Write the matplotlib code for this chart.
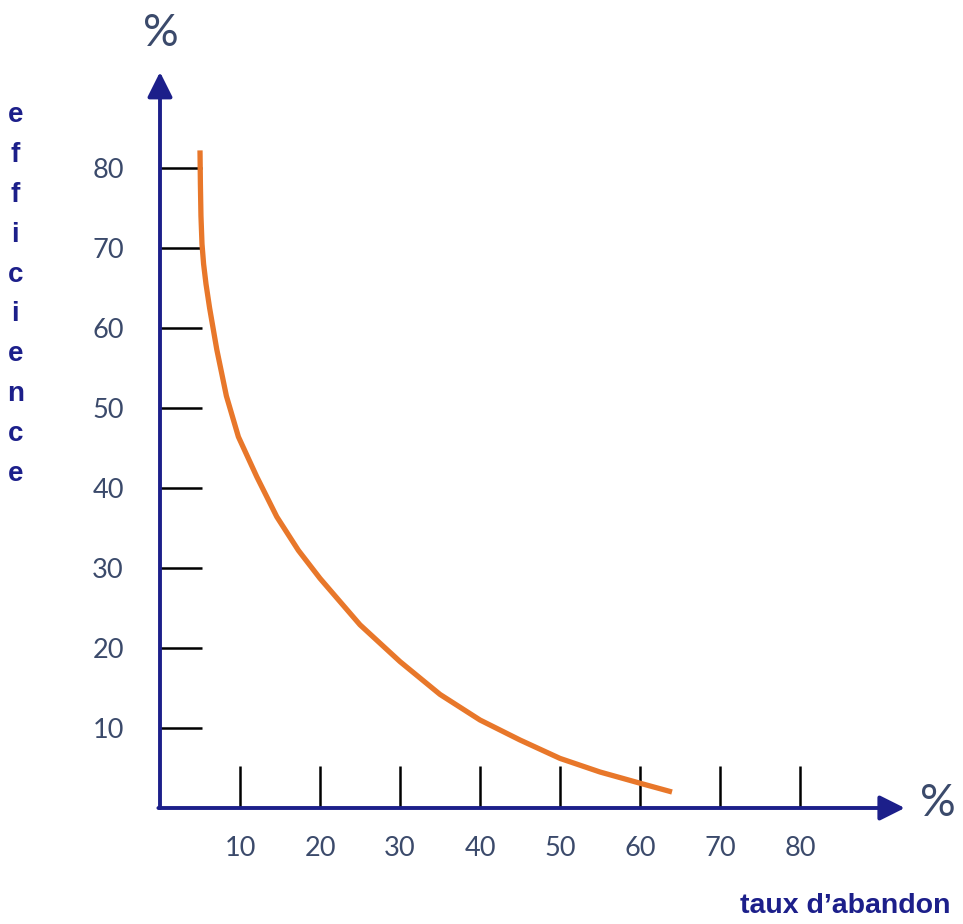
import matplotlib.pyplot as plt
import numpy as np

# data
taux_abandon = [5, 5.05, 5.12, 5.25, 5.45, 5.75, 6.2, 7.1, 8.3, 9.8, 12.1, 14.6, 17.3,
                20, 25, 30, 35, 40, 45, 50, 55, 60, 64]
efficience = [82.2, 78, 74, 70.5, 68, 65.5, 62.5, 57.3, 51.5, 46.4, 41.4, 36.4, 32.2,
              28.7, 22.9, 18.3, 14.2, 11, 8.5, 6.2, 4.5, 3.1, 2.0]
xticks = [10, 20, 30, 40, 50, 60, 70, 80]
yticks = [10, 20, 30, 40, 50, 60, 70, 80]

navy = '#1c1f8a'
label_col = '#3b4a6b'
orange = '#e8772a'

fig = plt.figure(figsize=(9.63, 9.24), dpi=100)
ax = fig.add_axes([0, 0, 1, 1])
ax.set_xlim(-20, 100.375)
ax.set_ylim(-14.5, 101)

for s in ['top', 'right']:
    ax.spines[s].set_visible(False)
for s in ['left', 'bottom']:
    ax.spines[s].set_position(('data', 0))
    ax.spines[s].set_visible(False)

# axis lines with arrows
ax.annotate('', xy=(0, 92), xytext=(0, 0),
            arrowprops=dict(arrowstyle='-|>', lw=2.8, color=navy,
                            mutation_scale=38, shrinkA=0, shrinkB=0))
ax.annotate('', xy=(93.1, 0), xytext=(-0.2, 0),
            arrowprops=dict(arrowstyle='-|>', lw=2.8, color=navy,
                            mutation_scale=38, shrinkA=0, shrinkB=0))

ax.set_xticks(xticks)
ax.set_yticks(yticks)
ax.tick_params(axis='both', direction='in', length=30, width=1.8, color='black',
               labelsize=19.5, labelcolor=label_col)
ax.tick_params(axis='y', pad=26)
ax.tick_params(axis='x', pad=20)
for lab in ax.get_xticklabels() + ax.get_yticklabels():
    lab.set_family('Lato')

ax.plot(taux_abandon, efficience, color=orange, lw=3.8, solid_capstyle='butt',
        solid_joinstyle='round')

ax.text(0.1, 96.75, '%', fontsize=32, color=label_col, ha='center', va='center',
        family='Lato')
ax.text(97.25, 0.6, '%', fontsize=32, color=label_col, ha='center', va='center',
        family='Lato')
ax.text(-18.1, 88.2, '\n'.join('efficience'), fontsize=20, fontweight='bold', color=navy,
        ha='center', va='top', linespacing=1.69, family='Liberation Sans')
ax.text(85.6, -12.3, 'taux d\u2019abandon', fontsize=20.5, fontweight='bold', color=navy,
        ha='center', va='center', family='Liberation Sans')

fig.savefig('out.png', dpi=100)
